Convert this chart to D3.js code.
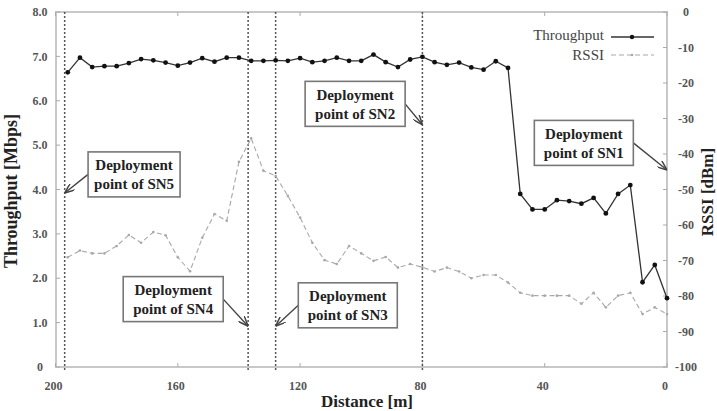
<!DOCTYPE html>
<html>
<head>
<meta charset="utf-8">
<script src="https://cdn.jsdelivr.net/npm/d3@7"></script>
<style>
  body { margin: 0; background: #fff; }
  svg { display: block; font-family: "Liberation Serif", "DejaVu Serif", serif; }
</style>
</head>
<body>
<svg id="chart" width="717" height="411"></svg>
<script>
// distance from sink [m], one sample every 4 m
const distance = [196, 192, 188, 184, 180, 176, 172, 168, 164, 160,
                  156, 152, 148, 144, 140, 136, 132, 128, 124, 120,
                  116, 112, 108, 104, 100, 96, 92, 88, 84, 80,
                  76, 72, 68, 64, 60, 56, 52, 48, 44, 40,
                  36, 32, 28, 24, 20, 16, 12, 8, 4, 0];
const throughput = [6.64, 6.97, 6.76, 6.78, 6.78, 6.85, 6.94, 6.91, 6.86, 6.79,
                    6.86, 6.96, 6.88, 6.97, 6.97, 6.90, 6.90, 6.91, 6.90, 6.96,
                    6.87, 6.90, 6.97, 6.90, 6.90, 7.04, 6.87, 6.76, 6.93, 6.99,
                    6.87, 6.81, 6.86, 6.75, 6.70, 6.89, 6.74, 3.90, 3.55, 3.55,
                    3.76, 3.74, 3.68, 3.81, 3.46, 3.90, 4.10, 1.91, 2.30, 1.55];
const rssi = [-69.1, -67.2, -68.0, -68.0, -65.9, -62.8, -65.0, -62.0, -62.9, -69.1,
              -73.0, -63.6, -56.9, -58.8, -42.2, -35.6, -44.7, -46.2, -51.8, -57.9,
              -65.0, -69.9, -71.0, -65.9, -68.0, -70.1, -69.0, -72.0, -71.0, -71.9,
              -73.1, -72.0, -73.1, -75.0, -74.1, -74.1, -76.2, -79.1, -79.9, -79.9,
              -79.9, -79.9, -82.2, -79.1, -83.2, -79.9, -79.1, -85.1, -83.2, -85.1];

const xTicks = [200, 160, 120, 80, 40, 0];
const leftTicks = [0, 1, 2, 3, 4, 5, 6, 7, 8];
const rightTicks = [0, -10, -20, -30, -40, -50, -60, -70, -80, -90, -100];

// sensor node deployment points
const deployNames = ["SN5", "SN4", "SN3", "SN2"];
const deployDistance = [197, 137, 128, 80];

// callouts: label, arrow target [distance, Mbps], box centre [distance, Mbps]
const noteLabels = ["SN5", "SN4", "SN3", "SN2", "SN1"];
const noteTargets = [[197, 3.92], [137, 0.92], [128, 0.92], [80, 5.46], [0, 4.44]];
const noteCenters = [[174.3, 4.34], [161.5, 1.53], [104.4, 1.39], [102.0, 5.93], [27.2, 5.05]];
const noteWidths = [92, 100, 99, 100, 99];
const noteSides = ["left", "right", "left", "right", "right"];

const plot = { left: 56, right: 667, top: 12, bottom: 367 };

const svg = d3.select("#chart");

const x = d3.scaleLinear().domain([200, 0]).range([plot.left - 0.5, plot.right]);
const y = d3.scaleLinear().domain([0, 8]).range([plot.bottom, plot.top]);
const y2 = d3.scaleLinear().domain([-100, 0]).range([plot.bottom, plot.top]);

const tickColor = "#555";

// frame
svg.append("rect")
  .attr("x", plot.left).attr("y", plot.top)
  .attr("width", plot.right - plot.left).attr("height", plot.bottom - plot.top)
  .attr("fill", "none").attr("stroke", "#c8c8c8").attr("stroke-width", 2);

// left axis ticks + labels
leftTicks.forEach(t => {
  svg.append("line")
    .attr("x1", plot.left).attr("x2", plot.left + 4)
    .attr("y1", y(t)).attr("y2", y(t))
    .attr("stroke", "#aaa");
  svg.append("text")
    .attr("x", 40).attr("y", y(t)).attr("dy", "0.35em")
    .attr("text-anchor", "middle")
    .attr("font-size", 12).attr("font-weight", "bold").attr("fill", tickColor)
    .text(t === 0 ? "0" : d3.format(".1f")(t));
});

// right axis ticks + labels
rightTicks.forEach(t => {
  svg.append("line")
    .attr("x1", plot.right - 4).attr("x2", plot.right)
    .attr("y1", y2(t)).attr("y2", y2(t))
    .attr("stroke", "#aaa");
  svg.append("text")
    .attr("x", 686).attr("y", y2(t)).attr("dy", "0.35em")
    .attr("text-anchor", "middle")
    .attr("font-size", 12).attr("font-weight", "bold").attr("fill", tickColor)
    .text(t);
});

// x ticks (top and bottom) + labels
xTicks.forEach(t => {
  svg.append("line")
    .attr("x1", x(t)).attr("x2", x(t))
    .attr("y1", plot.bottom - 4).attr("y2", plot.bottom)
    .attr("stroke", "#aaa");
  svg.append("line")
    .attr("x1", x(t)).attr("x2", x(t))
    .attr("y1", plot.top).attr("y2", plot.top + 4)
    .attr("stroke", "#aaa");
  svg.append("text")
    .attr("x", x(t) - 2).attr("y", 390)
    .attr("text-anchor", "middle")
    .attr("font-size", 12).attr("font-weight", "bold").attr("fill", tickColor)
    .text(t);
});

// axis titles
svg.append("text")
  .attr("transform", `translate(17,191) rotate(-90)`)
  .attr("text-anchor", "middle")
  .attr("font-size", 18).attr("font-weight", "bold").attr("fill", "#222")
  .text("Throughput [Mbps]");

svg.append("text")
  .attr("transform", `translate(713,192) rotate(-90)`)
  .attr("text-anchor", "middle")
  .attr("font-size", 17).attr("font-weight", "bold").attr("fill", "#222")
  .text("RSSI [dBm]");

svg.append("text")
  .attr("x", 367).attr("y", 407)
  .attr("text-anchor", "middle")
  .attr("font-size", 17).attr("font-weight", "bold").attr("fill", "#222")
  .text("Distance [m]");

// deployment lines
svg.selectAll(".deploy")
  .data(deployDistance)
  .enter()
  .append("line")
  .attr("class", "deploy")
  .attr("x1", d => x(d)).attr("x2", d => x(d))
  .attr("y1", plot.top).attr("y2", plot.bottom + 5)
  .attr("stroke", "#555").attr("stroke-width", 1.5)
  .attr("stroke-dasharray", "2,2");

// RSSI series
const rssiLine = d3.line()
  .x((d, i) => x(distance[i]))
  .y(d => y2(d));

svg.append("path")
  .datum(rssi)
  .attr("d", rssiLine)
  .attr("fill", "none").attr("stroke", "#a8a8a8").attr("stroke-width", 1.1)
  .attr("stroke-dasharray", "5,3");

svg.selectAll(".rssi-pt")
  .data(rssi)
  .enter()
  .append("circle")
  .attr("class", "rssi-pt")
  .attr("cx", (d, i) => x(distance[i]))
  .attr("cy", d => y2(d))
  .attr("r", 1.3)
  .attr("fill", "#a8a8a8");

// Throughput series
const tpLine = d3.line()
  .x((d, i) => x(distance[i]))
  .y(d => y(d));

svg.append("path")
  .datum(throughput)
  .attr("d", tpLine)
  .attr("fill", "none").attr("stroke", "#333").attr("stroke-width", 1.3);

svg.selectAll(".tp-pt")
  .data(throughput)
  .enter()
  .append("circle")
  .attr("class", "tp-pt")
  .attr("cx", (d, i) => x(distance[i]))
  .attr("cy", d => y(d))
  .attr("r", 2.4)
  .attr("fill", "#111");

// legend
svg.append("text")
  .attr("x", 604).attr("y", 40)
  .attr("text-anchor", "end")
  .attr("font-size", 15).attr("fill", "#444")
  .text("Throughput");
svg.append("line")
  .attr("x1", 611).attr("x2", 654).attr("y1", 37).attr("y2", 37)
  .attr("stroke", "#333").attr("stroke-width", 1.3);
svg.append("circle")
  .attr("cx", 632).attr("cy", 37).attr("r", 2.2).attr("fill", "#111");

svg.append("text")
  .attr("x", 604).attr("y", 60)
  .attr("text-anchor", "end")
  .attr("font-size", 15).attr("fill", "#444")
  .text("RSSI");
svg.append("line")
  .attr("x1", 611).attr("x2", 654).attr("y1", 55).attr("y2", 55)
  .attr("stroke", "#a8a8a8").attr("stroke-width", 1.1)
  .attr("stroke-dasharray", "5,3");
svg.append("circle")
  .attr("cx", 632).attr("cy", 55).attr("r", 1.3).attr("fill", "#a8a8a8");

// arrowhead
svg.append("defs").append("marker")
  .attr("id", "arrow")
  .attr("viewBox", "0 0 10 8")
  .attr("refX", 10).attr("refY", 4)
  .attr("markerWidth", 10).attr("markerHeight", 8)
  .attr("markerUnits", "userSpaceOnUse")
  .attr("orient", "auto")
  .append("path")
  .attr("d", "M0,0 L10,4 L0,8")
  .attr("fill", "none").attr("stroke", "#444").attr("stroke-width", 1.5);

// callout boxes
const boxH = 45;
noteLabels.forEach((name, i) => {
  const cx = x(noteCenters[i][0]);
  const cy = y(noteCenters[i][1]);
  const w = noteWidths[i];
  const sx = noteSides[i] === "left" ? cx - w / 2 : cx + w / 2;

  svg.append("line")
    .attr("x1", sx).attr("y1", cy)
    .attr("x2", x(noteTargets[i][0])).attr("y2", y(noteTargets[i][1]))
    .attr("stroke", "#444").attr("stroke-width", 1.4)
    .attr("marker-end", "url(#arrow)");

  svg.append("rect")
    .attr("x", cx - w / 2).attr("y", cy - boxH / 2)
    .attr("width", w).attr("height", boxH)
    .attr("fill", "#fff").attr("stroke", "#777").attr("stroke-width", 1.6);

  svg.append("text")
    .attr("x", cx).attr("y", cy - 4)
    .attr("text-anchor", "middle")
    .attr("font-size", 15).attr("font-weight", "bold").attr("fill", "#222")
    .text("Deployment");
  svg.append("text")
    .attr("x", cx).attr("y", cy + 15)
    .attr("text-anchor", "middle")
    .attr("font-size", 15).attr("font-weight", "bold").attr("fill", "#222")
    .text("point of " + name);
});
</script>
</body>
</html>
